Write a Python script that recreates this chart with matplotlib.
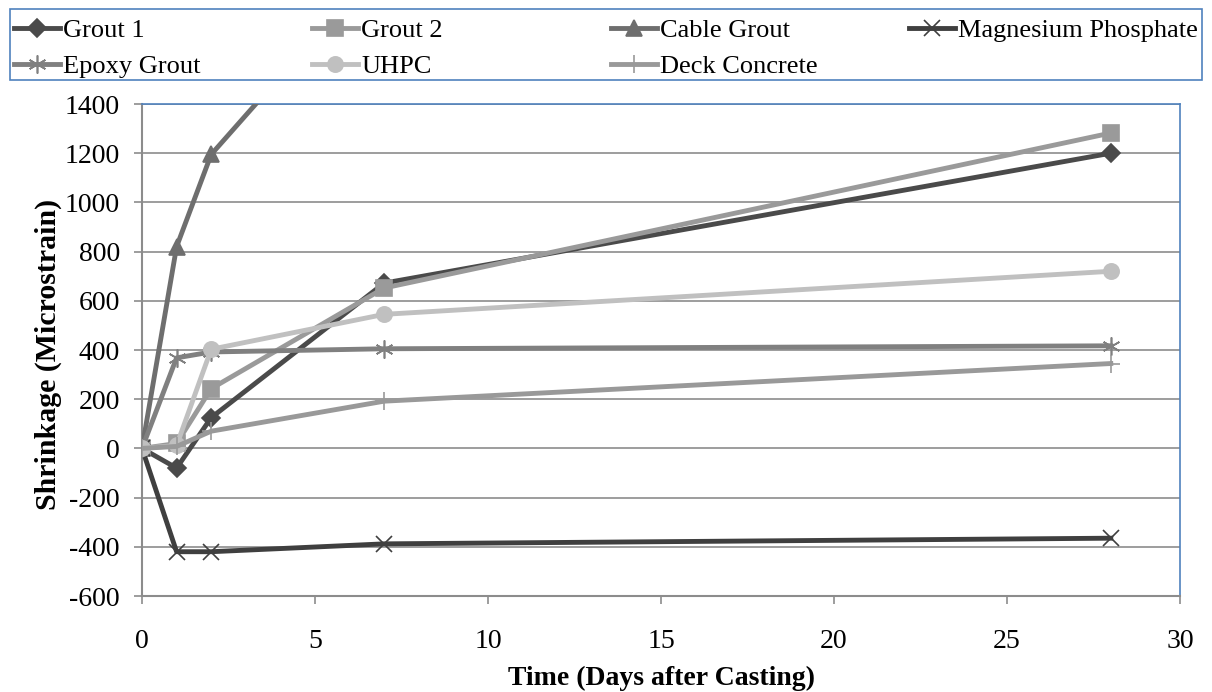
import numpy as np
import matplotlib
matplotlib.use('Agg')
import matplotlib.pyplot as plt
from matplotlib.patches import Rectangle

plt.rcParams['font.family'] = ['Liberation Serif', 'DejaVu Serif']
plt.rcParams['axes.unicode_minus'] = False

# jours apres coulage
days = [0, 1, 2, 7, 28]
grout1 = [0, -80, 125, 672, 1200]
grout2 = [0, 20, 243, 652, 1282]
cable_grout = [0, 820, 1195, 1990]
magnesium = [0, -420, -420, -388, -365]
epoxy = [0, 368, 392, 405, 417]
uhpc = [0, 12, 403, 545, 720]
deck = [0, 8, 70, 192, 345]

series = [
    ('Grout 1', days, grout1, '#4a4a4a', 'D', 9),
    ('Grout 2', days, grout2, '#9a9a9a', 's', 11),
    ('Cable Grout', days[:4], cable_grout, '#6e6e6e', '^', 11),
    ('Magnesium Phosphate', days, magnesium, '#3f3f3f', 'x', 12),
    ('Epoxy Grout', days, epoxy, '#808080', (6, 2, 0), 13),
    ('UHPC', days, uhpc, '#c0c0c0', 'o', 11),
    ('Deck Concrete', days, deck, '#999999', '+', 13),
]

W, H = 1212, 692
fig = plt.figure(figsize=(W/100, H/100), dpi=100)
ax = fig.add_axes([142/W, 1 - 596/H, (1180 - 142)/W, (596 - 104)/H])

lines = {}
for name, x, y, c, m, ms in series:
    l, = ax.plot(x, y, color=c, lw=3.5, marker=m, markersize=ms,
                 markeredgecolor=c, markerfacecolor=c, markeredgewidth=1.2,
                 label=name, clip_on=True, zorder=3)
    lines[name] = l

ax.set_xlim(0, 30)
ax.set_ylim(-600, 1400)
ax.set_xticks(range(0, 31, 5))
ax.set_yticks(range(-600, 1401, 200))
ax.yaxis.grid(True, color='#8c8c8c', lw=1.2)
ax.set_axisbelow(True)
ax.tick_params(direction='out', length=6, color='#8c8c8c', width=1.2,
               labelsize=20)
ax.tick_params(axis='x', pad=18)
ax.tick_params(axis='y', pad=10)
for s in ['left', 'bottom']:
    ax.spines[s].set_color('#8c8c8c')
    ax.spines[s].set_linewidth(1.5)
for s in ['top', 'right']:
    ax.spines[s].set_color('#4f81bd')
    ax.spines[s].set_linewidth(1.2)

ax.set_xlabel('Time (Days after Casting)', fontsize=20, fontweight='bold', labelpad=8)
ax.set_ylabel('Shrinkage (Microstrain)', fontsize=21.5, fontweight='bold')
ax.yaxis.set_label_coords(-(142 - 62)/(1180 - 142), 0.49)

# legende : 4 colonnes a positions fixes, remplie ligne par ligne
columns = [['Grout 1', 'Epoxy Grout'], ['Grout 2', 'UHPC'],
           ['Cable Grout', 'Deck Concrete'], ['Magnesium Phosphate']]
col_x = [14, 312, 611, 909]
for names, cx in zip(columns, col_x):
    leg = fig.legend([lines[n] for n in names], names, loc='upper left',
                     bbox_to_anchor=(cx/W, 1 - 19/H), frameon=False,
                     fontsize=19, handlelength=1.75, handletextpad=0.12,
                     borderpad=0, borderaxespad=0, labelspacing=0.45)
fig.add_artist(Rectangle((10/W, 1 - 80/H), 1192/W, 71/H, transform=fig.transFigure,
                         fill=False, edgecolor='#4f81bd', lw=1.2))

plt.savefig('out.png', dpi=100)
